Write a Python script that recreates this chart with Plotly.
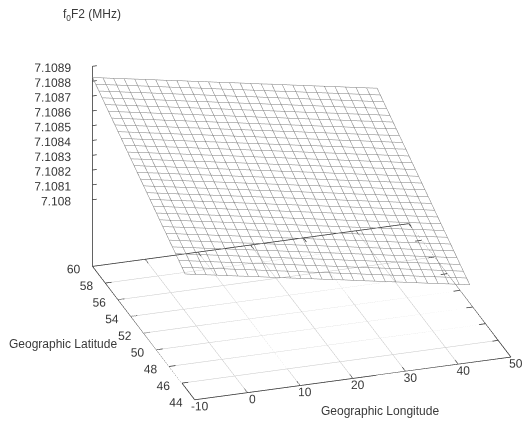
import plotly.graph_objects as go

# ---------------- data ----------------
lon_grid = [-10, -8, -6, -4, -2, 0, 2, 4, 6, 8, 10, 12, 14, 16, 18, 20,
            22, 24, 26, 28, 30, 32, 34, 36, 38, 40, 42, 44]
lat_grid = [60.0, 59.5, 59.0, 58.5, 58.0, 57.5, 57.0, 56.5, 56.0, 55.5,
            55.0, 54.5, 54.0, 53.5, 53.0, 52.5, 52.0, 51.5, 51.0, 50.5,
            50.0, 49.5, 49.0, 48.5, 48.0, 47.5, 47.0, 46.5, 46.0, 45.5]
# foF2 along the northern edge (lat 60) for each longitude
fof2_north_edge = [7.1088250, 7.1088127, 7.1088004, 7.1087881, 7.1087758,
                   7.1087635, 7.1087512, 7.1087389, 7.1087266, 7.1087143,
                   7.1087020, 7.1086897, 7.1086774, 7.1086651, 7.1086528,
                   7.1086405, 7.1086282, 7.1086159, 7.1086036, 7.1085913,
                   7.1085790, 7.1085667, 7.1085544, 7.1085421, 7.1085298,
                   7.1085175, 7.1085052, 7.1084929]
# decrease of foF2 going south from lat 60 for each latitude
fof2_lat_drop = [0.0, 0.0000176, 0.0000352, 0.0000528, 0.0000704, 0.0000880,
                 0.0001056, 0.0001232, 0.0001408, 0.0001584, 0.0001760,
                 0.0001936, 0.0002112, 0.0002288, 0.0002464, 0.0002640,
                 0.0002816, 0.0002992, 0.0003168, 0.0003344, 0.0003520,
                 0.0003696, 0.0003872, 0.0004048, 0.0004224, 0.0004400,
                 0.0004576, 0.0004752, 0.0004928, 0.0005104]

lon_ticks = [-10, 0, 10, 20, 30, 40, 50]
lat_ticks = [44, 46, 48, 50, 52, 54, 56, 58, 60]
z_ticks = [7.108, 7.1081, 7.1082, 7.1083, 7.1084, 7.1085, 7.1086, 7.1087, 7.1088, 7.1089]
z_tick_labels = ["7.108", "7.1081", "7.1082", "7.1083", "7.1084", "7.1085",
                 "7.1086", "7.1087", "7.1088", "7.1089"]

lon_min, lon_max = lon_ticks[0], lon_ticks[-1]
lat_min, lat_max = lat_ticks[0], lat_ticks[-1]
z_top = z_ticks[-1]
z_base = 7.10755          # gnuplot ticslevel 0.5 base plane

FONT = "Liberation Sans, Arial, Helvetica, sans-serif"
TXT = "#3a3a3a"
BORDER = "#2e2e2e"

fig = go.Figure()


def add_lines(xs, ys, zs, color, width):
    fig.add_trace(go.Scatter3d(x=xs, y=ys, z=zs, mode="lines",
                               line=dict(color=color, width=width),
                               connectgaps=False, hoverinfo="skip", showlegend=False))


# ---------------- base grid ----------------
gx, gy, gz = [], [], []
for lo in lon_ticks[1:-1]:
    gx += [lo, lo, None]; gy += [lat_min, lat_max, None]; gz += [z_base, z_base, None]
for la in lat_ticks[1:-1]:
    gx += [lon_min, lon_max, None]; gy += [la, la, None]; gz += [z_base, z_base, None]
add_lines(gx, gy, gz, "#c6c6c6", 1)

# ---------------- border edges (one trace each) ----------------
add_lines([lon_min, lon_max], [lat_min, lat_min], [z_base, z_base], BORDER, 1.5)   # front
add_lines([lon_max, lon_max], [lat_min, lat_max], [z_base, z_base], BORDER, 1.5)   # right
add_lines([lon_max, lon_min], [lat_max, lat_max], [z_base, z_base], BORDER, 1.5)   # back
add_lines([lon_min, lon_min], [lat_max, lat_min], [z_base, z_base], BORDER, 1.5)   # left
add_lines([lon_min, lon_min], [lat_max, lat_max], [z_base, z_top], BORDER, 1.5)    # z axis

# ---------------- tick marks ----------------
tx, ty, tz = [], [], []
tl_lon = 1.2   # tick length in degrees lon
tl_lat = 0.5   # tick length in degrees lat
for la in lat_ticks:
    tx += [lon_min, lon_min + tl_lon, None, lon_max, lon_max - tl_lon, None]
    ty += [la, la, None, la, la, None]
    tz += [z_base, z_base, None, z_base, z_base, None]
for lo in lon_ticks:
    tx += [lo, lo, None, lo, lo, None]
    ty += [lat_min, lat_min + tl_lat, None, lat_max, lat_max - tl_lat, None]
    tz += [z_base, z_base, None, z_base, z_base, None]
for zt in z_ticks:
    tx += [lon_min, lon_min + 0.8, None]
    ty += [lat_max, lat_max, None]
    tz += [zt, zt, None]
add_lines(tx, ty, tz, BORDER, 1.5)

# ---------------- mesh surface ----------------
mx, my, mz = [], [], []
for i, la in enumerate(lat_grid):
    for j, lo in enumerate(lon_grid):
        mx.append(lo); my.append(la); mz.append(fof2_north_edge[j] - fof2_lat_drop[i])
    mx.append(None); my.append(None); mz.append(None)
for j, lo in enumerate(lon_grid):
    for i, la in enumerate(lat_grid):
        mx.append(lo); my.append(la); mz.append(fof2_north_edge[j] - fof2_lat_drop[i])
    mx.append(None); my.append(None); mz.append(None)
add_lines(mx, my, mz, "#7a7a7a", 1)

# ---------------- tick labels ----------------
fig.add_trace(go.Scatter3d(
    x=[lon_min - 3.6] * len(lat_ticks), y=lat_ticks, z=[z_base] * len(lat_ticks),
    mode="text", text=[str(v) for v in lat_ticks], textposition="middle center",
    textfont=dict(family=FONT, size=12, color=TXT), hoverinfo="skip", showlegend=False))
fig.add_trace(go.Scatter3d(
    x=lon_ticks, y=[lat_min - 0.75] * len(lon_ticks), z=[z_base] * len(lon_ticks),
    mode="text", text=[str(v) for v in lon_ticks], textposition="middle center",
    textfont=dict(family=FONT, size=12, color=TXT), hoverinfo="skip", showlegend=False))
fig.add_trace(go.Scatter3d(
    x=[lon_min - 1.9] * len(z_ticks), y=[lat_max] * len(z_ticks), z=z_ticks,
    mode="text", text=z_tick_labels, textposition="middle left",
    textfont=dict(family=FONT, size=12, color=TXT), hoverinfo="skip", showlegend=False))

# ---------------- scene ----------------
xr = [-14.0, 51.0]
yr = [42.5, 60.5]
zr = [7.10754, 7.10891]
hidden = dict(visible=False, showgrid=False, zeroline=False, showbackground=False)
view_dir = (-0.278, -0.864, 0.42)
look_at = (-0.1538, 0.0625, 0.0227)
fig.update_layout(
    width=524, height=423,
    margin=dict(l=0, r=0, t=0, b=0),
    paper_bgcolor="white",
    showlegend=False,
    scene=dict(
        domain=dict(x=[0.0, 1.0], y=[0.0, 1.0]),
        xaxis=dict(range=xr, **hidden),
        yaxis=dict(range=yr, **hidden),
        zaxis=dict(range=zr, **hidden),
        aspectmode="manual",
        aspectratio=dict(x=1.7015, y=1.775, z=1.0575),
        camera=dict(
            eye=dict(x=look_at[0] + 2 * view_dir[0], y=look_at[1] + 2 * view_dir[1],
                     z=look_at[2] + 2 * view_dir[2]),
            up=dict(x=0, y=0, z=1),
            center=dict(x=look_at[0], y=look_at[1], z=look_at[2]),
            projection=dict(type="orthographic"),
        ),
        bgcolor="white",
    ),
    annotations=[
        dict(text="f<sub>0</sub>F2 (MHz)", x=92 / 524, y=1 - 15 / 423, xref="paper", yref="paper",
             xanchor="center", yanchor="middle", showarrow=False,
             font=dict(family=FONT, size=12, color=TXT)),
        dict(text="Geographic Latitude", x=63 / 524, y=1 - 344 / 423, xref="paper", yref="paper",
             xanchor="center", yanchor="middle", showarrow=False,
             font=dict(family=FONT, size=12, color=TXT)),
        dict(text="Geographic Longitude", x=380 / 524, y=1 - 411 / 423, xref="paper", yref="paper",
             xanchor="center", yanchor="middle", showarrow=False,
             font=dict(family=FONT, size=12, color=TXT)),
    ],
)

fig.write_html("out.html", config={"displayModeBar": False})
